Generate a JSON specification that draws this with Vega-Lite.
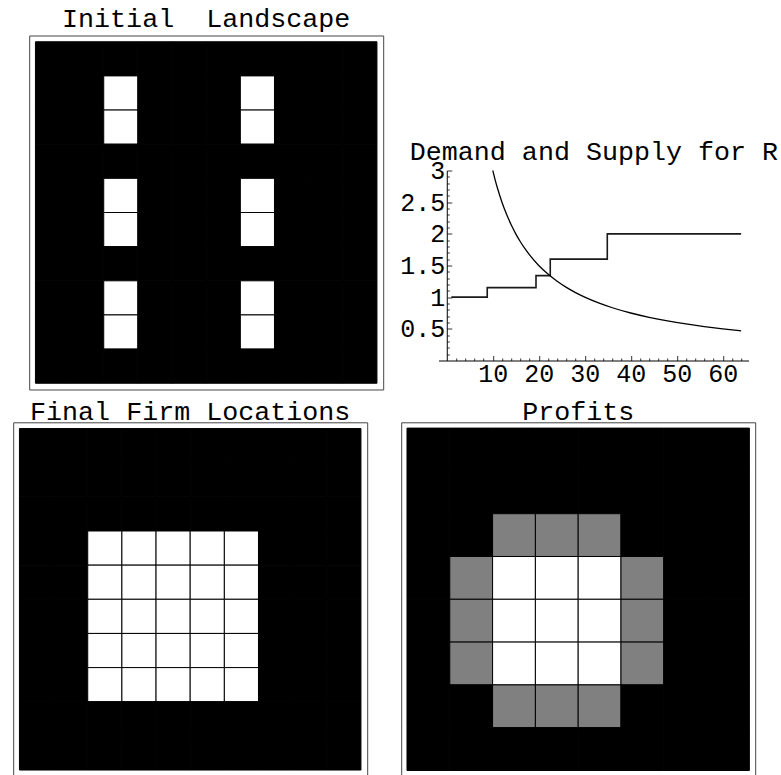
{
  "$schema": "https://vega.github.io/schema/vega-lite/v6.json",
  "padding": {"left": 12.2, "top": 5.5, "right": 0, "bottom": 0},
  "autosize": {"type": "pad"},
  "background": "white",
  "config": {
    "view": {"stroke": null},
    "font": "Liberation Mono",
    "title": {"font": "Liberation Mono", "fontSize": 26.7, "fontWeight": "normal", "color": "black", "frame": "group", "anchor": "middle", "baseline": "alphabetic"},
    "axis": {"labelFont": "Liberation Mono", "labelFontSize": 25, "labelColor": "black", "domainColor": "black", "domainWidth": 1, "tickColor": "#333", "tickWidth": 1, "grid": false, "title": null, "labelOverlap": false, "labelFlush": false}
  },
  "datasets": {
    "landscape": [
      {"r":0,"c":0,"v":0},{"r":0,"c":1,"v":0},{"r":0,"c":2,"v":0},{"r":0,"c":3,"v":0},{"r":0,"c":4,"v":0},{"r":0,"c":5,"v":0},{"r":0,"c":6,"v":0},{"r":0,"c":7,"v":0},{"r":0,"c":8,"v":0},{"r":0,"c":9,"v":0},
      {"r":1,"c":0,"v":0},{"r":1,"c":1,"v":0},{"r":1,"c":2,"v":1},{"r":1,"c":3,"v":0},{"r":1,"c":4,"v":0},{"r":1,"c":5,"v":0},{"r":1,"c":6,"v":1},{"r":1,"c":7,"v":0},{"r":1,"c":8,"v":0},{"r":1,"c":9,"v":0},
      {"r":2,"c":0,"v":0},{"r":2,"c":1,"v":0},{"r":2,"c":2,"v":1},{"r":2,"c":3,"v":0},{"r":2,"c":4,"v":0},{"r":2,"c":5,"v":0},{"r":2,"c":6,"v":1},{"r":2,"c":7,"v":0},{"r":2,"c":8,"v":0},{"r":2,"c":9,"v":0},
      {"r":3,"c":0,"v":0},{"r":3,"c":1,"v":0},{"r":3,"c":2,"v":0},{"r":3,"c":3,"v":0},{"r":3,"c":4,"v":0},{"r":3,"c":5,"v":0},{"r":3,"c":6,"v":0},{"r":3,"c":7,"v":0},{"r":3,"c":8,"v":0},{"r":3,"c":9,"v":0},
      {"r":4,"c":0,"v":0},{"r":4,"c":1,"v":0},{"r":4,"c":2,"v":1},{"r":4,"c":3,"v":0},{"r":4,"c":4,"v":0},{"r":4,"c":5,"v":0},{"r":4,"c":6,"v":1},{"r":4,"c":7,"v":0},{"r":4,"c":8,"v":0},{"r":4,"c":9,"v":0},
      {"r":5,"c":0,"v":0},{"r":5,"c":1,"v":0},{"r":5,"c":2,"v":1},{"r":5,"c":3,"v":0},{"r":5,"c":4,"v":0},{"r":5,"c":5,"v":0},{"r":5,"c":6,"v":1},{"r":5,"c":7,"v":0},{"r":5,"c":8,"v":0},{"r":5,"c":9,"v":0},
      {"r":6,"c":0,"v":0},{"r":6,"c":1,"v":0},{"r":6,"c":2,"v":0},{"r":6,"c":3,"v":0},{"r":6,"c":4,"v":0},{"r":6,"c":5,"v":0},{"r":6,"c":6,"v":0},{"r":6,"c":7,"v":0},{"r":6,"c":8,"v":0},{"r":6,"c":9,"v":0},
      {"r":7,"c":0,"v":0},{"r":7,"c":1,"v":0},{"r":7,"c":2,"v":1},{"r":7,"c":3,"v":0},{"r":7,"c":4,"v":0},{"r":7,"c":5,"v":0},{"r":7,"c":6,"v":1},{"r":7,"c":7,"v":0},{"r":7,"c":8,"v":0},{"r":7,"c":9,"v":0},
      {"r":8,"c":0,"v":0},{"r":8,"c":1,"v":0},{"r":8,"c":2,"v":1},{"r":8,"c":3,"v":0},{"r":8,"c":4,"v":0},{"r":8,"c":5,"v":0},{"r":8,"c":6,"v":1},{"r":8,"c":7,"v":0},{"r":8,"c":8,"v":0},{"r":8,"c":9,"v":0},
      {"r":9,"c":0,"v":0},{"r":9,"c":1,"v":0},{"r":9,"c":2,"v":0},{"r":9,"c":3,"v":0},{"r":9,"c":4,"v":0},{"r":9,"c":5,"v":0},{"r":9,"c":6,"v":0},{"r":9,"c":7,"v":0},{"r":9,"c":8,"v":0},{"r":9,"c":9,"v":0}
    ],
    "firms": [
      {"r":0,"c":0,"v":0},{"r":0,"c":1,"v":0},{"r":0,"c":2,"v":0},{"r":0,"c":3,"v":0},{"r":0,"c":4,"v":0},{"r":0,"c":5,"v":0},{"r":0,"c":6,"v":0},{"r":0,"c":7,"v":0},{"r":0,"c":8,"v":0},{"r":0,"c":9,"v":0},
      {"r":1,"c":0,"v":0},{"r":1,"c":1,"v":0},{"r":1,"c":2,"v":0},{"r":1,"c":3,"v":0},{"r":1,"c":4,"v":0},{"r":1,"c":5,"v":0},{"r":1,"c":6,"v":0},{"r":1,"c":7,"v":0},{"r":1,"c":8,"v":0},{"r":1,"c":9,"v":0},
      {"r":2,"c":0,"v":0},{"r":2,"c":1,"v":0},{"r":2,"c":2,"v":0},{"r":2,"c":3,"v":0},{"r":2,"c":4,"v":0},{"r":2,"c":5,"v":0},{"r":2,"c":6,"v":0},{"r":2,"c":7,"v":0},{"r":2,"c":8,"v":0},{"r":2,"c":9,"v":0},
      {"r":3,"c":0,"v":0},{"r":3,"c":1,"v":0},{"r":3,"c":2,"v":1},{"r":3,"c":3,"v":1},{"r":3,"c":4,"v":1},{"r":3,"c":5,"v":1},{"r":3,"c":6,"v":1},{"r":3,"c":7,"v":0},{"r":3,"c":8,"v":0},{"r":3,"c":9,"v":0},
      {"r":4,"c":0,"v":0},{"r":4,"c":1,"v":0},{"r":4,"c":2,"v":1},{"r":4,"c":3,"v":1},{"r":4,"c":4,"v":1},{"r":4,"c":5,"v":1},{"r":4,"c":6,"v":1},{"r":4,"c":7,"v":0},{"r":4,"c":8,"v":0},{"r":4,"c":9,"v":0},
      {"r":5,"c":0,"v":0},{"r":5,"c":1,"v":0},{"r":5,"c":2,"v":1},{"r":5,"c":3,"v":1},{"r":5,"c":4,"v":1},{"r":5,"c":5,"v":1},{"r":5,"c":6,"v":1},{"r":5,"c":7,"v":0},{"r":5,"c":8,"v":0},{"r":5,"c":9,"v":0},
      {"r":6,"c":0,"v":0},{"r":6,"c":1,"v":0},{"r":6,"c":2,"v":1},{"r":6,"c":3,"v":1},{"r":6,"c":4,"v":1},{"r":6,"c":5,"v":1},{"r":6,"c":6,"v":1},{"r":6,"c":7,"v":0},{"r":6,"c":8,"v":0},{"r":6,"c":9,"v":0},
      {"r":7,"c":0,"v":0},{"r":7,"c":1,"v":0},{"r":7,"c":2,"v":1},{"r":7,"c":3,"v":1},{"r":7,"c":4,"v":1},{"r":7,"c":5,"v":1},{"r":7,"c":6,"v":1},{"r":7,"c":7,"v":0},{"r":7,"c":8,"v":0},{"r":7,"c":9,"v":0},
      {"r":8,"c":0,"v":0},{"r":8,"c":1,"v":0},{"r":8,"c":2,"v":0},{"r":8,"c":3,"v":0},{"r":8,"c":4,"v":0},{"r":8,"c":5,"v":0},{"r":8,"c":6,"v":0},{"r":8,"c":7,"v":0},{"r":8,"c":8,"v":0},{"r":8,"c":9,"v":0},
      {"r":9,"c":0,"v":0},{"r":9,"c":1,"v":0},{"r":9,"c":2,"v":0},{"r":9,"c":3,"v":0},{"r":9,"c":4,"v":0},{"r":9,"c":5,"v":0},{"r":9,"c":6,"v":0},{"r":9,"c":7,"v":0},{"r":9,"c":8,"v":0},{"r":9,"c":9,"v":0}
    ],
    "profits": [
      {"r":0,"c":0,"v":0},{"r":0,"c":1,"v":0},{"r":0,"c":2,"v":0},{"r":0,"c":3,"v":0},{"r":0,"c":4,"v":0},{"r":0,"c":5,"v":0},{"r":0,"c":6,"v":0},{"r":0,"c":7,"v":0},
      {"r":1,"c":0,"v":0},{"r":1,"c":1,"v":0},{"r":1,"c":2,"v":0},{"r":1,"c":3,"v":0},{"r":1,"c":4,"v":0},{"r":1,"c":5,"v":0},{"r":1,"c":6,"v":0},{"r":1,"c":7,"v":0},
      {"r":2,"c":0,"v":0},{"r":2,"c":1,"v":0},{"r":2,"c":2,"v":0.5},{"r":2,"c":3,"v":0.5},{"r":2,"c":4,"v":0.5},{"r":2,"c":5,"v":0},{"r":2,"c":6,"v":0},{"r":2,"c":7,"v":0},
      {"r":3,"c":0,"v":0},{"r":3,"c":1,"v":0.5},{"r":3,"c":2,"v":1},{"r":3,"c":3,"v":1},{"r":3,"c":4,"v":1},{"r":3,"c":5,"v":0.5},{"r":3,"c":6,"v":0},{"r":3,"c":7,"v":0},
      {"r":4,"c":0,"v":0},{"r":4,"c":1,"v":0.5},{"r":4,"c":2,"v":1},{"r":4,"c":3,"v":1},{"r":4,"c":4,"v":1},{"r":4,"c":5,"v":0.5},{"r":4,"c":6,"v":0},{"r":4,"c":7,"v":0},
      {"r":5,"c":0,"v":0},{"r":5,"c":1,"v":0.5},{"r":5,"c":2,"v":1},{"r":5,"c":3,"v":1},{"r":5,"c":4,"v":1},{"r":5,"c":5,"v":0.5},{"r":5,"c":6,"v":0},{"r":5,"c":7,"v":0},
      {"r":6,"c":0,"v":0},{"r":6,"c":1,"v":0},{"r":6,"c":2,"v":0.5},{"r":6,"c":3,"v":0.5},{"r":6,"c":4,"v":0.5},{"r":6,"c":5,"v":0},{"r":6,"c":6,"v":0},{"r":6,"c":7,"v":0},
      {"r":7,"c":0,"v":0},{"r":7,"c":1,"v":0},{"r":7,"c":2,"v":0},{"r":7,"c":3,"v":0},{"r":7,"c":4,"v":0},{"r":7,"c":5,"v":0},{"r":7,"c":6,"v":0},{"r":7,"c":7,"v":0}
    ],
    "demand": [
      {"q":10,"p":3.0},{"q":10.5,"p":2.857},{"q":11,"p":2.727},{"q":12,"p":2.5},{"q":13,"p":2.308},{"q":14,"p":2.143},{"q":15,"p":2.0},{"q":16,"p":1.875},{"q":17,"p":1.765},{"q":18,"p":1.667},{"q":20,"p":1.5},{"q":22,"p":1.364},{"q":24,"p":1.25},{"q":26,"p":1.154},{"q":28,"p":1.071},{"q":30,"p":1.0},{"q":33,"p":0.909},{"q":36,"p":0.833},{"q":40,"p":0.75},{"q":44,"p":0.682},{"q":48,"p":0.625},{"q":52,"p":0.577},{"q":56,"p":0.536},{"q":60,"p":0.5},{"q":64,"p":0.469}
    ],
    "supply": [
      {"q":1,"p":1.0},{"q":8.8,"p":1.15},{"q":19.4,"p":1.34},{"q":22.5,"p":1.6},{"q":34.9,"p":2.0},{"q":64,"p":2.0}
    ]
  },
  "spacing": 6.8,
  "vconcat": [
    {
      "bounds": "flush",
      "spacing": 10,
      "hconcat": [
        {"width": 5.8, "height": 1, "view": {"fill": "white", "stroke": null}, "data": {"values": []}, "mark": "point"},
        {
          "title": {"text": "Initial \u00a0Landscape", "offset": 2.5},
          "width": 354,
          "height": 354,
          "view": {"stroke": "#444", "strokeWidth": 1},
          "data": {"name": "landscape"},
          "mark": {"type": "rect", "stroke": "black", "strokeWidth": 1},
          "encoding": {
            "x": {"field": "c", "type": "ordinal", "axis": null, "scale": {"paddingInner": 0, "paddingOuter": 0.183}},
            "y": {"field": "r", "type": "ordinal", "axis": null, "scale": {"paddingInner": 0, "paddingOuter": 0.183}},
            "color": {"field": "v", "type": "quantitative", "legend": null, "scale": {"domain": [0, 1], "range": ["black", "white"], "interpolate": "rgb"}}
          }
        },
        {
          "title": {"text": "Demand and Supply for R", "offset": -130.5, "dx": 23.1},
          "width": 355.3,
          "height": 325,
          "layer": [
            {
              "data": {"name": "supply"},
              "mark": {"type": "line", "interpolate": "step-after", "color": "#1a1a1a", "strokeWidth": 1.6},
              "encoding": {
                "x": {
                  "field": "q", "type": "quantitative",
                  "scale": {"domain": [-1.8, 65.6], "range": [45.3, 355.3], "nice": false, "zero": false},
                  "axis": {
                    "values": [2,4,6,8,10,12,14,16,18,20,22,24,26,28,30,32,34,36,38,40,42,44,46,48,50,52,54,56,58,60,62,64],
                    "tickCount": 100,
                    "format": "d",
                    "labelOverlap": false,
                    "labelExpr": "datum.value % 10 === 0 ? datum.label : ''",
                    "tickSize": {"condition": {"test": "datum.value % 10 === 0", "value": -5}, "value": -2.5},
                    "labelPadding": 6
                  }
                },
                "y": {
                  "field": "p", "type": "quantitative",
                  "scale": {"domain": [0, 3], "range": [325, 135], "nice": false, "zero": false},
                  "axis": {
                    "values": [0.1,0.2,0.3,0.4,0.5,0.6,0.7,0.8,0.9,1,1.1,1.2,1.3,1.4,1.5,1.6,1.7,1.8,1.9,2,2.1,2.2,2.3,2.4,2.5,2.6,2.7,2.8,2.9,3],
                    "tickCount": 100,
                    "format": ".1~f",
                    "labelOverlap": false,
                    "offset": -53.58,
                    "labelExpr": "indexof([0.5, 1, 1.5, 2, 2.5, 3], datum.value) >= 0 ? datum.label : ''",
                    "tickSize": {"condition": {"test": "indexof([0.5, 1, 1.5, 2, 2.5, 3], datum.value) >= 0", "value": -5}, "value": -2.5},
                    "labelPadding": 7
                  }
                }
              }
            },
            {
              "data": {"name": "demand"},
              "mark": {"type": "line", "interpolate": "monotone", "color": "black", "strokeWidth": 1.3},
              "encoding": {
                "x": {"field": "q", "type": "quantitative"},
                "y": {"field": "p", "type": "quantitative"}
              }
            }
          ]
        }
      ]
    },
    {
      "bounds": "flush",
      "spacing": 34,
      "hconcat": [
        {
          "title": {"text": "Final Firm Locations", "offset": -3},
          "width": 354,
          "height": 354,
          "view": {"stroke": "#444", "strokeWidth": 1},
          "data": {"name": "firms"},
          "mark": {"type": "rect", "stroke": "black", "strokeWidth": 1},
          "encoding": {
            "x": {"field": "c", "type": "ordinal", "axis": null, "scale": {"paddingInner": 0, "paddingOuter": 0.183}},
            "y": {"field": "r", "type": "ordinal", "axis": null, "scale": {"paddingInner": 0, "paddingOuter": 0.183}},
            "color": {"field": "v", "type": "quantitative", "legend": null, "scale": {"domain": [0, 1], "range": ["black", "white"], "interpolate": "rgb"}}
          }
        },
        {
          "title": {"text": "Profits", "offset": -3},
          "width": 354,
          "height": 354,
          "view": {"stroke": "#444", "strokeWidth": 1},
          "data": {"name": "profits"},
          "mark": {"type": "rect", "stroke": "black", "strokeWidth": 1},
          "encoding": {
            "x": {"field": "c", "type": "ordinal", "axis": null, "scale": {"paddingInner": 0, "paddingOuter": 0.1355}},
            "y": {"field": "r", "type": "ordinal", "axis": null, "scale": {"paddingInner": 0, "paddingOuter": 0.1355}},
            "color": {"field": "v", "type": "quantitative", "legend": null, "scale": {"domain": [0, 1], "range": ["black", "white"], "interpolate": "rgb"}}
          }
        }
      ]
    }
  ]
}
